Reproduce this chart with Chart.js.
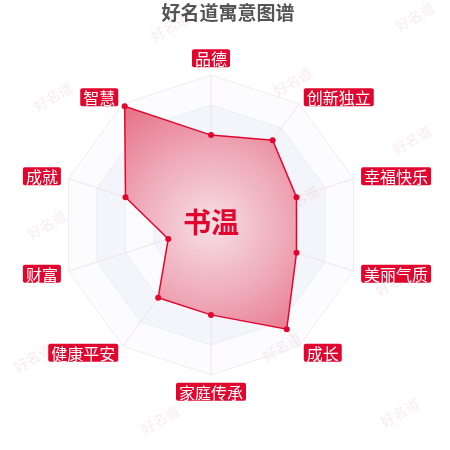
<!DOCTYPE html>
<html>
<head>
<meta charset="utf-8">
<script src="https://cdn.jsdelivr.net/npm/chart.js@4/dist/chart.umd.min.js"></script>
<style>
  html, body { margin: 0; padding: 0; background: #fff; }
  #wrap { width: 450px; height: 450px; }
</style>
</head>
<body>
<div id="wrap"><canvas id="name-chart"></canvas></div>
<script>
var categories = ["品德", "创新独立", "幸福快乐", "美丽气质", "成长", "家庭传承", "健康平安", "财富", "成就", "智慧"];
var scores = [60, 70, 60, 60, 86, 60, 60, 30, 60, 98];
var gridSteps = [20, 40, 60, 80, 100];
var titleText = "好名道寓意图谱";
var nameText = "书温";
var watermark = "好名道";

var RED = '#e2062f';
var FONT = '"Noto Sans CJK SC", "Noto Sans", sans-serif';

// alternating bands behind the grid
var splitArea = {
    id: 'splitArea',
    beforeDraw: function(chart) {
        var scale = chart.scales.r;
        var ctx = chart.ctx;
        var n = categories.length;
        ctx.save();
        for (var k = gridSteps.length - 1; k >= 0; k--) {
            var r = scale.getDistanceFromCenterForValue(gridSteps[k]);
            ctx.beginPath();
            for (var i = 0; i < n; i++) {
                var p = scale.getPointPosition(i, r);
                if (i === 0) ctx.moveTo(p.x, p.y); else ctx.lineTo(p.x, p.y);
            }
            ctx.closePath();
            ctx.fillStyle = (gridSteps.length - 1 - k) % 2 === 0 ? '#fcfcfe' : '#f4f5fa';
            ctx.fill();
        }
        // watermarks
        ctx.fillStyle = 'rgba(215, 120, 140, 0.15)';
        ctx.font = '14px ' + FONT;
        ctx.textAlign = 'center';
        ctx.textBaseline = 'middle';
        var marks = [[170, 27], [415, 17], [53, 97], [293, 82], [412, 140], [47, 225],
                     [300, 200], [395, 282], [33, 358], [282, 347], [160, 420], [400, 413]];
        marks.forEach(function(m) {
            ctx.save();
            ctx.translate(m[0], m[1]);
            ctx.rotate(-Math.PI / 6);
            ctx.fillText(watermark, 0, 0);
            ctx.restore();
        });
        ctx.restore();
    }
};

// name in the middle + axis names in red boxes
var overlay = {
    id: 'overlay',
    afterDraw: function(chart) {
        var scale = chart.scales.r;
        var ctx = chart.ctx;
        ctx.save();
        ctx.fillStyle = RED;
        ctx.font = 'bold 28px ' + FONT;
        ctx.textAlign = 'center';
        ctx.textBaseline = 'middle';
        ctx.fillText(nameText, scale.xCenter, scale.yCenter - 3);

        ctx.font = '16px ' + FONT;
        var bh = 18, px = 3;
        for (var i = 0; i < categories.length; i++) {
            var a = scale.getIndexAngle(i);
            var s = Math.sin(a), c = Math.cos(a);
            var p = scale.getPointPosition(i, scale.drawingArea + 8);
            var tw = ctx.measureText(categories[i]).width;
            var bw = tw + px * 2;
            var bx, by;
            if (Math.abs(s) < 0.01) bx = p.x - bw / 2;
            else if (s > 0) bx = p.x;
            else bx = p.x - bw;
            if (Math.abs(s) < 0.01) by = c > 0 ? p.y - bh : p.y;
            else by = p.y - bh / 2;
            ctx.fillStyle = RED;
            ctx.beginPath();
            ctx.roundRect(bx, by, bw, bh, 2);
            ctx.fill();
            ctx.fillStyle = '#fff';
            ctx.fillText(categories[i], bx + bw / 2, by + bh / 2 + 1);
        }
        ctx.restore();
    }
};

var ctx = document.getElementById("name-chart").getContext('2d');
var myChart = new Chart(ctx, {
    type: 'radar',
    data: {
        labels: categories,
        datasets: [{
            label: nameText,
            data: scores,
            borderColor: RED,
            borderWidth: 1.5,
            pointRadius: 3,
            pointBackgroundColor: RED,
            pointBorderWidth: 0,
            fill: true,
            backgroundColor: function(c) {
                var chart = c.chart;
                var scale = chart.scales.r;
                if (!scale || !scale.drawingArea) return 'rgba(230,100,120,0.6)';
                var g = chart.ctx.createRadialGradient(scale.xCenter, scale.yCenter, 0,
                    scale.xCenter, scale.yCenter, scale.drawingArea);
                g.addColorStop(0, 'rgba(247,222,228,0.95)');
                g.addColorStop(0.5, 'rgba(238,165,180,0.95)');
                g.addColorStop(1, 'rgba(228,100,124,0.95)');
                return g;
            }
        }]
    },
    options: {
        responsive: true,
        maintainAspectRatio: false,
        animation: false,
        layout: { padding: { left: 12, right: 6, top: 0, bottom: 29 } },
        plugins: {
            legend: { display: false },
            tooltip: { enabled: false },
            title: {
                display: true,
                text: titleText,
                color: '#555',
                font: { family: FONT, size: 19, weight: 'bold' },
                padding: { top: 1.5, bottom: 5.3 }
            }
        },
        scales: {
            r: {
                min: 0,
                max: 100,
                ticks: { display: false, stepSize: 20 },
                grid: { color: '#eceef4', lineWidth: 1 },
                angleLines: { color: '#efe4ea', lineWidth: 1 },
                // kept for layout only, drawn by the overlay plugin
                pointLabels: {
                    color: 'rgba(0,0,0,0)',
                    font: { family: FONT, size: 16 },
                    padding: 10
                }
            }
        }
    },
    plugins: [splitArea, overlay]
});
</script>
</body>
</html>
